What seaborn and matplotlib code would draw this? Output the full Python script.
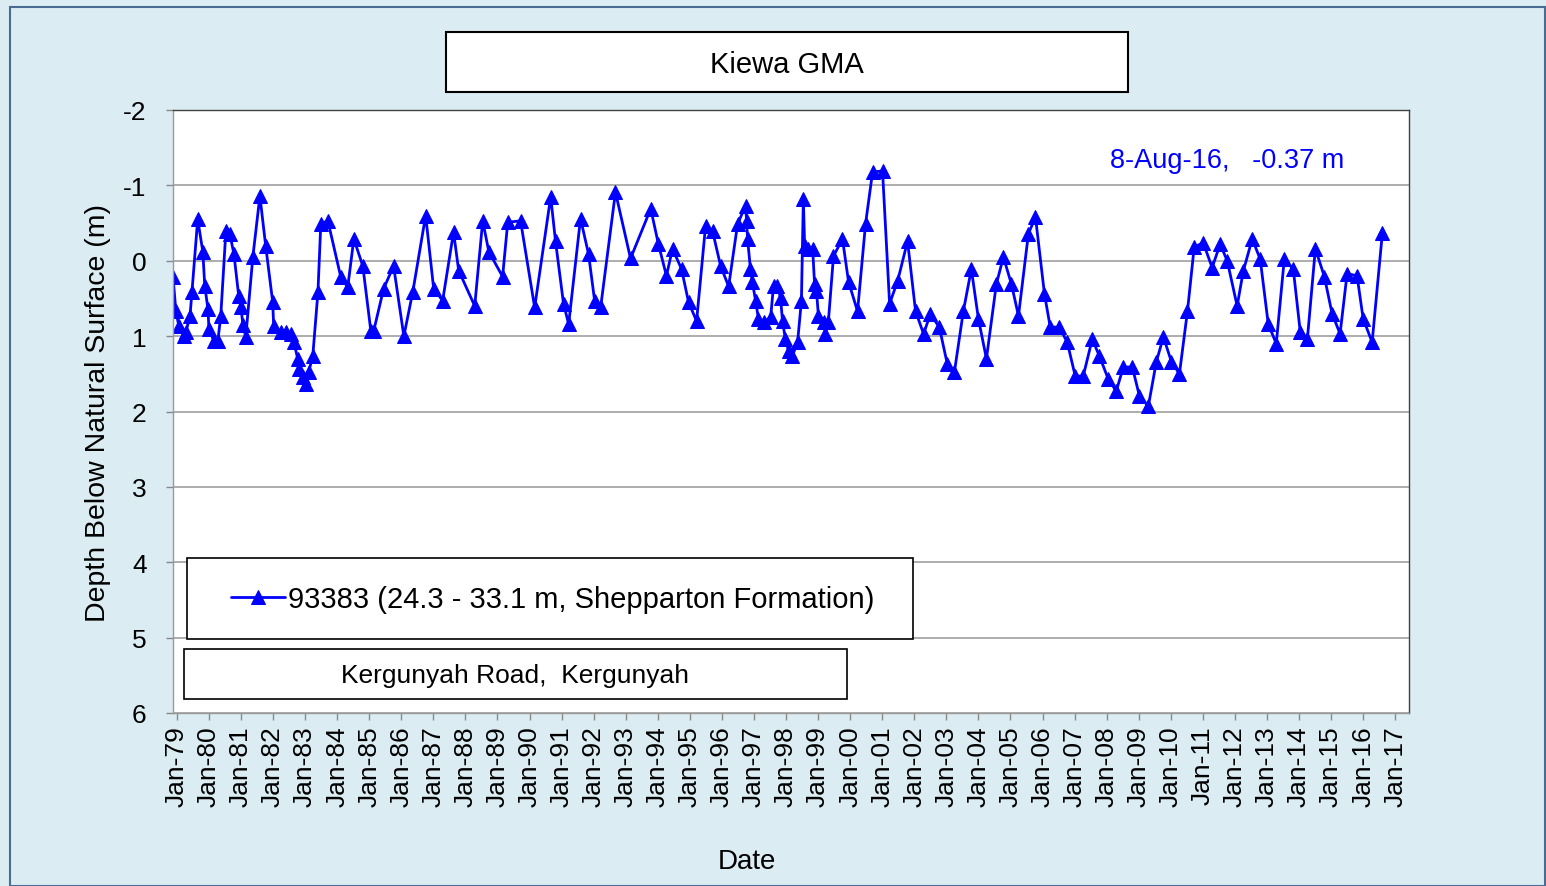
import matplotlib
matplotlib.use("Agg")
import matplotlib.pyplot as plt
import seaborn as sns
import pandas as pd
from matplotlib.patches import Rectangle

# decimal year of each reading and depth below natural surface (m)
years = [
    1978.88, 1978.97, 1979.06, 1979.22, 1979.28, 1979.41, 1979.47, 1979.65, 1979.81, 1979.87,
    1979.97, 1980.00, 1980.15, 1980.28, 1980.37, 1980.53, 1980.65, 1980.78, 1980.93, 1981.00,
    1981.06, 1981.15, 1981.37, 1981.59, 1981.77, 1981.99, 1982.02, 1982.24, 1982.40, 1982.55,
    1982.65, 1982.77, 1982.80, 1982.93, 1983.02, 1983.11, 1983.24, 1983.40, 1983.49, 1983.71,
    1984.11, 1984.33, 1984.52, 1984.80, 1985.05, 1985.14, 1985.45, 1985.76, 1986.08, 1986.36,
    1986.76, 1987.01, 1987.29, 1987.63, 1987.79, 1988.29, 1988.54, 1988.73, 1989.16, 1989.32,
    1989.72, 1990.16, 1990.66, 1990.81, 1991.06, 1991.22, 1991.59, 1991.84, 1992.03, 1992.22,
    1992.68, 1993.15, 1993.78, 1994.02, 1994.27, 1994.46, 1994.74, 1994.96, 1995.21, 1995.49,
    1995.71, 1995.96, 1996.21, 1996.49, 1996.74, 1996.77, 1996.80, 1996.89, 1996.95, 1997.05,
    1997.14, 1997.30, 1997.52, 1997.61, 1997.73, 1997.83, 1997.89, 1997.98, 1998.08, 1998.20,
    1998.36, 1998.48, 1998.54, 1998.58, 1998.70, 1998.83, 1998.89, 1998.95, 1999.01, 1999.17,
    1999.23, 1999.32, 1999.48, 1999.76, 1999.95, 2000.23, 2000.48, 2000.70, 2001.01, 2001.23,
    2001.48, 2001.79, 2002.04, 2002.29, 2002.50, 2002.78, 2003.03, 2003.25, 2003.53, 2003.78,
    2004.00, 2004.25, 2004.56, 2004.78, 2005.03, 2005.25, 2005.56, 2005.78, 2006.06, 2006.24,
    2006.52, 2006.77, 2007.02, 2007.27, 2007.55, 2007.77, 2008.05, 2008.30, 2008.52, 2008.80,
    2009.02, 2009.30, 2009.55, 2009.77, 2010.02, 2010.27, 2010.52, 2010.73, 2011.01, 2011.29,
    2011.54, 2011.76, 2012.07, 2012.26, 2012.54, 2012.79, 2013.04, 2013.29, 2013.54, 2013.82,
    2014.04, 2014.26, 2014.51, 2014.79, 2015.03, 2015.28, 2015.50, 2015.81, 2016.00, 2016.28,
    2016.60,
]
depth = [
    0.21, 0.67, 0.86, 1.00, 0.95, 0.73, 0.42, -0.55, -0.12, 0.33,
    0.64, 0.90, 1.06, 1.06, 0.73, -0.40, -0.36, -0.09, 0.47, 0.62,
    0.85, 1.01, -0.05, -0.86, -0.20, 0.55, 0.87, 0.95, 0.95, 0.97,
    1.08, 1.30, 1.44, 1.54, 1.63, 1.48, 1.26, 0.42, -0.49, -0.53,
    0.21, 0.35, -0.29, 0.07, 0.93, 0.93, 0.37, 0.07, 1.00, 0.41,
    -0.60, 0.37, 0.53, -0.38, 0.13, 0.60, -0.53, -0.12, 0.21, -0.51,
    -0.53, 0.62, -0.85, -0.26, 0.57, 0.84, -0.56, -0.09, 0.53, 0.61,
    -0.91, -0.03, -0.69, -0.22, 0.20, -0.16, 0.11, 0.55, 0.80, -0.46,
    -0.39, 0.07, 0.34, -0.49, -0.73, -0.53, -0.29, 0.11, 0.28, 0.53,
    0.77, 0.81, 0.75, 0.33, 0.33, 0.50, 0.80, 1.04, 1.20, 1.26,
    1.08, 0.53, -0.82, -0.20, -0.16, -0.16, 0.31, 0.40, 0.73, 0.81,
    0.97, 0.81, -0.06, -0.29, 0.28, 0.67, -0.49, -1.18, -1.19, 0.57,
    0.27, -0.26, 0.67, 0.97, 0.71, 0.88, 1.37, 1.48, 0.67, 0.11,
    0.77, 1.30, 0.31, -0.05, 0.31, 0.73, -0.36, -0.58, 0.44, 0.88,
    0.88, 1.08, 1.53, 1.53, 1.04, 1.26, 1.57, 1.73, 1.41, 1.41,
    1.79, 1.93, 1.34, 1.01, 1.34, 1.50, 0.67, -0.18, -0.24, 0.09,
    -0.22, 0.00, 0.60, 0.14, -0.29, -0.02, 0.84, 1.10, -0.02, 0.11,
    0.95, 1.04, -0.16, 0.21, 0.70, 0.97, 0.17, 0.20, 0.77, 1.08,
    -0.37,
]
tick_years = list(range(1979, 2018))
tick_labels = [f"Jan-{y % 100:02d}" for y in tick_years]
y_ticks = [-2, -1, 0, 1, 2, 3, 4, 5, 6]

series_name = "93383 (24.3 - 33.1 m, Shepparton Formation)"
bore_name = "Kiewa GMA"
site_name = "Kergunyah Road,  Kergunyah"
latest_note = "8-Aug-16,   -0.37 m"

df = pd.DataFrame({"Date": years, "Depth": depth})

sns.set_theme(style="white")
plt.rcParams["font.family"] = ["Liberation Sans", "DejaVu Sans"]
plt.rcParams["axes.unicode_minus"] = False
plt.rcParams["text.color"] = "black"
plt.rcParams["axes.labelcolor"] = "black"
plt.rcParams["xtick.color"] = "black"
plt.rcParams["ytick.color"] = "black"

bg = "#DBEDF3"
fig = plt.figure(figsize=(15.46, 8.87), dpi=100, facecolor=bg)
fig.patches.append(Rectangle((10 / 1546, 0), 1535 / 1546, 1 - 8 / 887, transform=fig.transFigure,
                             fill=False, edgecolor="#4A6B94", lw=1.5, zorder=0))
ax = fig.add_axes([173 / 1546, 1 - 714 / 887, 1236 / 1546, 603 / 887])
ax.set_facecolor("white")

sns.lineplot(data=df, x="Date", y="Depth", ax=ax, color="#0000FF", lw=2,
             marker="^", markersize=10, markeredgecolor="#0000FF",
             estimator=None, sort=False, label=series_name)

ax.set_ylim(6, -2)
ax.set_yticks(y_ticks)
ax.set_xlim(1978.88, 2017.43)
ax.set_xticks(tick_years)
ax.set_xticklabels(tick_labels, rotation=90, fontsize=19)
ax.tick_params(axis="y", labelsize=19, length=5, width=1, color="#888888", direction="out", pad=14, left=True)
ax.tick_params(axis="x", length=5, width=1, color="#888888", direction="out", pad=4, bottom=True)
ax.grid(axis="y", color="#A0A0A0", lw=1.2)
ax.grid(axis="x", visible=False)
for side in ["top", "right"]:
    ax.spines[side].set_color("#404040")
    ax.spines[side].set_linewidth(1)
for side in ["left", "bottom"]:
    ax.spines[side].set_color("#999999")
    ax.spines[side].set_linewidth(1)

ax.set_ylabel("Depth Below Natural Surface (m)", fontsize=20.5, labelpad=9)
ax.set_xlabel("Date", fontsize=20, va="center")
ax.xaxis.set_label_coords((747 - 173) / 1236, -(862 - 714) / 603)

# legend box
ax.add_patch(Rectangle((14 / 1236, 74 / 603), 726 / 1236, 81 / 603, transform=ax.transAxes,
                       facecolor="white", edgecolor="black", lw=1.2, zorder=5))
leg = ax.legend(loc="center left", bbox_to_anchor=(46 / 1236, 114 / 603), frameon=False,
                fontsize=21, handlelength=1.85, handletextpad=0.1, borderaxespad=0)
leg.set_zorder(6)

# site box
ax.text(342 / 1236, 38 / 603, site_name, transform=ax.transAxes, ha="center", va="center",
        fontsize=19, zorder=6)
ax.add_patch(Rectangle((11 / 1236, 14 / 603), 663 / 1236, 50 / 603, transform=ax.transAxes,
                       facecolor="white", edgecolor="black", lw=1.2, zorder=5))

# latest reading note
ax.text((1110 - 173) / 1236, 1 - 50 / 603, latest_note, transform=ax.transAxes, ha="left",
        va="center", fontsize=19.5, color="#0000FF")

# title box
fig.text(787 / 1546, 1 - 65 / 887, bore_name, ha="center", va="center", fontsize=21)
fig.patches.append(Rectangle((446 / 1546, 1 - 93 / 887), 682 / 1546, 60 / 887, transform=fig.transFigure,
                             facecolor="white", edgecolor="black", lw=1.5, zorder=1))

fig.savefig("out.png", dpi=100, facecolor=bg)
